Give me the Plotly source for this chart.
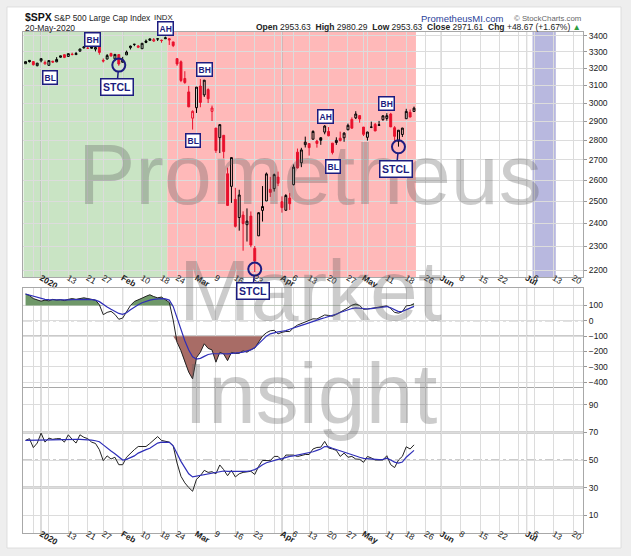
import numpy as np
import pandas as pd
import plotly.graph_objects as go

# ---- trading calendar: Dec 26 2019 -> late Jul 2020 (NYSE holidays removed)
holidays = ["2020-01-01", "2020-01-20", "2020-02-17", "2020-04-10", "2020-05-25", "2020-07-03"]
all_days = [d.strftime("%Y-%m-%d") for d in pd.bdate_range("2019-12-26", "2020-07-24")]
all_days = [d for d in all_days if d not in holidays]

# ---- $SPX daily OHLC, 26-Dec-2019 .. 20-May-2020
prev_close = 3223.38
opens = [3227.20, 3247.23, 3240.09, 3215.18,
         3244.67, 3226.36, 3217.55, 3241.86, 3238.59, 3266.03, 3281.81, 3271.13, 3285.35, 3282.27,
         3302.97, 3323.66, 3321.03, 3330.02, 3315.77, 3333.10, 3247.16, 3255.35, 3289.46, 3256.45, 3282.33,
         3235.66, 3280.61, 3324.91, 3344.92, 3335.54, 3318.28, 3365.87, 3370.50, 3365.90, 3378.08,
         3369.04, 3380.39, 3380.45, 3360.50, 3257.61, 3238.94, 3139.90, 3062.54, 2916.90,
         2974.28, 3096.46, 3045.75, 3075.70, 2954.20, 2863.89, 2813.48, 2825.60, 2630.86, 2569.99,
         2508.59, 2425.66, 2436.50, 2393.48, 2431.94, 2290.71, 2344.44, 2457.77, 2501.29, 2555.87,
         2558.98, 2614.69,
         2498.08, 2458.54, 2514.92, 2578.28, 2738.65, 2685.00, 2776.99, 2782.46, 2805.10, 2795.64,
         2812.64, 2842.43, 2845.62, 2784.81, 2787.89, 2810.42, 2812.64, 2854.65, 2909.96, 2918.46, 2930.91,
         2869.09, 2815.01, 2868.88, 2883.14, 2878.26, 2908.83, 2915.46, 2939.50, 2865.86, 2794.54,
         2829.95, 2913.86, 2948.59, 2953.63]
highs = [3240.08, 3247.93, 3240.92, 3231.72,
         3258.14, 3246.15, 3246.84, 3244.91, 3267.07, 3275.58, 3282.99, 3288.13, 3294.25, 3298.66,
         3317.11, 3329.88, 3329.79, 3337.77, 3326.88, 3333.18, 3258.85, 3285.78, 3293.47, 3285.91, 3282.33,
         3268.44, 3306.92, 3337.58, 3347.96, 3341.42, 3352.26, 3375.63, 3381.47, 3385.09, 3380.69,
         3375.01, 3393.52, 3385.09, 3360.76, 3259.81, 3246.99, 3182.51, 3097.07, 2959.72,
         3090.96, 3136.72, 3130.97, 3083.04, 2985.93, 2863.89, 2882.59, 2825.60, 2660.95, 2711.33,
         2562.98, 2553.93, 2453.57, 2466.97, 2453.01, 2300.73, 2449.71, 2571.42, 2637.01, 2615.91,
         2631.80, 2641.39,
         2522.75, 2533.22, 2538.18, 2676.85, 2756.89, 2760.75, 2818.57, 2782.46, 2851.85, 2801.88,
         2815.98, 2879.22, 2868.98, 2785.54, 2815.10, 2844.90, 2842.71, 2887.72, 2921.15, 2954.86, 2930.91,
         2869.09, 2844.24, 2898.23, 2891.11, 2901.92, 2932.16, 2944.25, 2945.82, 2874.14, 2852.80,
         2865.01, 2968.09, 2964.21, 2980.29]
lows = [3227.20, 3234.37, 3216.57, 3212.03,
        3235.53, 3222.34, 3214.64, 3232.43, 3236.67, 3263.67, 3260.86, 3268.43, 3277.19, 3280.69,
        3302.82, 3318.86, 3316.61, 3320.04, 3301.87, 3281.53, 3234.50, 3253.22, 3271.89, 3242.80, 3214.68,
        3235.66, 3280.61, 3313.75, 3334.39, 3322.12, 3317.77, 3352.72, 3369.72, 3360.52, 3366.15,
        3355.61, 3378.83, 3341.51, 3328.45, 3214.65, 3118.77, 3108.99, 2977.39, 2855.84,
        2945.19, 2976.63, 3034.38, 2999.83, 2901.54, 2734.43, 2734.00, 2707.22, 2478.86, 2492.37,
        2380.94, 2367.04, 2280.52, 2319.78, 2295.56, 2191.86, 2344.44, 2407.53, 2500.72, 2520.02,
        2545.28, 2571.15,
        2447.49, 2455.79, 2459.96, 2574.57, 2657.67, 2663.30, 2762.36, 2721.17, 2805.10, 2761.54,
        2775.95, 2830.88, 2820.43, 2727.10, 2775.95, 2794.26, 2791.76, 2852.89, 2860.71, 2912.16, 2892.47,
        2821.61, 2797.85, 2863.55, 2847.65, 2876.48, 2902.88, 2903.44, 2869.59, 2793.15, 2766.64,
        2816.78, 2913.86, 2922.35, 2953.63]
closes = [3239.91, 3240.02, 3221.29, 3230.78,
          3257.85, 3234.85, 3246.28, 3237.18, 3253.05, 3274.70, 3265.35, 3288.13, 3283.15, 3289.29,
          3316.81, 3329.62, 3320.79, 3321.75, 3325.54, 3295.47, 3243.63, 3276.24, 3273.40, 3283.66, 3225.52,
          3248.92, 3297.59, 3334.69, 3345.78, 3327.71, 3352.09, 3357.75, 3379.45, 3373.94, 3380.16,
          3370.29, 3386.15, 3373.23, 3337.75, 3225.89, 3128.21, 3116.39, 2978.76, 2954.22,
          3090.23, 3003.37, 3130.12, 3023.94, 2972.37, 2746.56, 2882.23, 2741.38, 2480.64, 2711.02,
          2386.13, 2529.19, 2398.10, 2409.39, 2304.92, 2237.40, 2447.33, 2475.56, 2630.07, 2541.47,
          2626.65, 2584.59,
          2470.50, 2526.90, 2488.65, 2663.68, 2659.41, 2749.98, 2789.82, 2761.63, 2846.06, 2783.36,
          2799.55, 2874.56, 2823.16, 2736.56, 2799.31, 2797.80, 2836.74, 2878.48, 2863.39, 2939.51, 2912.43,
          2830.71, 2842.74, 2868.44, 2848.42, 2881.19, 2929.80, 2930.32, 2870.12, 2820.00, 2852.50,
          2863.70, 2953.91, 2922.94, 2971.61]

cci = [175, 165, 145, 135,
       128, 135, 130, 140, 135, 138, 132, 140, 145, 140,
       147, 150, 145, 140, 135, 105, 40, 55, 62, 42,
       10, 18, 60, 100, 126, 135, 148, 160, 170, 158,
       150, 155, 140, 120, 5, -140, -195, -270, -335, -379,
       -240, -205, -150, -180, -190, -270, -206, -216, -260, -206,
       -213, -212, -196, -205, -188, -178, -142, -100, -78, -65,
       -62, -85, -75, -70, -70, -45, -28, -18, -10, 0,
       13, 12, 25, 38, 35, 30, 42, 55, 72, 85,
       102, 110, 100, 75, 77, 82, 88, 92, 95, 98,
       80, 55, 50, 60, 98, 100, 112]
cci_sig = [175, 168, 158, 150,
           145, 140, 138, 137, 136, 136, 136, 137, 138, 139,
           140, 141, 140, 138, 135, 125, 105, 90, 75, 62,
           48, 42, 52, 72, 90, 105, 118, 128, 135, 140,
           143, 145, 143, 135, 94, 20, -65, -130, -190, -235,
           -250, -245, -232, -220, -215, -214, -214, -215, -216, -215,
           -212, -208, -204, -198, -190, -175, -150, -120, -100, -85,
           -77, -72, -68, -64, -55, -45, -38, -30, -22, -12,
           -4, 5, 13, 20, 27, 34, 44, 54, 64, 73,
           80, 84, 82, 79, 77, 80, 84, 88, 91, 93,
           85, 70, 60, 62, 72, 82, 94]

rsi = [64.2, 65.5, 59.0, 62.3,
       69.5, 63.0, 65.9, 65.0, 65.5, 65.5, 63.0, 68.3, 65.0, 62.3,
       68.3, 66.5, 65.5, 63.0, 62.0, 57.5, 49.5, 53.0, 50.7, 52.0,
       46.6, 46.6, 52.0, 55.0, 57.5, 59.8, 60.0, 59.8, 62.0, 64.7,
       67.0, 64.2, 63.5, 63.0, 60.3, 47.8, 38.2, 33.4, 30.0, 27.3,
       36.0, 38.6, 42.5, 41.0, 41.5, 40.0, 46.4, 43.0, 38.6, 42.5,
       37.7, 40.0, 41.0, 41.5, 41.8, 39.5, 45.4, 49.7, 49.5, 49.5,
       52.6, 52.6, 49.5, 53.6, 53.6, 53.6, 52.5, 53.1, 54.0, 54.0,
       58.0, 59.1, 59.3, 63.5, 58.7, 58.0, 57.0, 52.6, 55.0, 52.0,
       52.6, 50.7, 50.5, 48.3, 52.6, 51.5, 50.0, 50.0, 50.0, 53.1,
       46.6, 44.5, 50.0, 52.6, 59.6, 58.0, 61.0]
rsi_sig = [64.2, 64.3, 64.2, 64.0,
           64.3, 64.5, 64.6, 64.6, 64.7, 64.8, 64.9, 65.0, 65.0, 65.0,
           65.0, 64.9, 64.7, 64.4, 64.0, 63.3, 61.0, 58.5, 56.5, 54.6,
           52.5, 50.0, 50.5, 51.5, 53.0, 55.0, 56.5, 57.5, 58.5, 60.5,
           62.3, 63.0, 63.0, 62.8, 60.3, 54.0, 49.0, 44.5, 40.0, 37.7,
           38.2, 38.6, 39.2, 40.0, 40.5, 41.0, 41.5, 42.0, 41.8, 41.8,
           41.5, 41.5, 41.6, 41.8, 42.2, 43.0, 44.5, 46.6, 48.0, 49.0,
           49.7, 50.5, 51.0, 52.0, 52.6, 53.0, 53.5, 54.0, 54.6, 55.0,
           56.0, 57.0, 58.0, 59.8, 59.5, 58.5, 57.5, 56.5, 55.5, 54.5,
           53.8, 53.0, 52.0, 51.2, 50.9, 50.7, 50.5, 50.3, 50.5, 51.3,
           50.0, 48.5, 47.8, 48.5, 52.0, 54.5, 57.0]

days = all_days[:len(closes)]

# ---- x axis: weekly grid, month starts bold
grid_days = ["2019-12-30", "2020-01-02", "2020-01-06", "2020-01-13", "2020-01-21", "2020-01-27",
             "2020-02-03", "2020-02-10", "2020-02-18", "2020-02-24", "2020-03-02", "2020-03-09",
             "2020-03-16", "2020-03-23", "2020-03-30", "2020-04-01", "2020-04-06", "2020-04-13",
             "2020-04-20", "2020-04-27", "2020-05-01", "2020-05-04", "2020-05-11", "2020-05-18",
             "2020-05-26", "2020-06-01", "2020-06-08", "2020-06-15", "2020-06-22", "2020-06-29",
             "2020-07-01", "2020-07-06", "2020-07-13", "2020-07-20"]
grid_labels = ["", "<b>2020</b>", "", "13", "21", "27",
               "<b>Feb</b>", "10", "18", "24", "<b>Mar</b>", "9",
               "16", "23", "", "<b>Apr</b>", "6", "13",
               "20", "27", "<b>May</b>", "", "11", "18",
               "26", "<b>Jun</b>", "8", "15", "22", "",
               "<b>Jul</b>", "6", "13", "20"]
month_days = ["2020-01-02", "2020-02-03", "2020-03-02", "2020-04-01", "2020-05-01", "2020-06-01", "2020-07-01"]

# ---- shaded periods (first day, last day, colour)
bands = [("2019-12-26", "2020-02-19", "#c9e4c4"),
         ("2020-02-20", "2020-05-20", "#ffb9b9"),
         ("2020-07-06", "2020-07-13", "#b8b8df")]

# ---- chart tags
tag_text = ["BL", "BH", "AH", "BH", "BL", "AH", "BL", "BH"]
tag_x = [6.2, 17.2, 36.0, 46.1, 43.1, 77.2, 79.1, 93.0]
tag_level = [3148, 3376, 3445, 3195, 2796, 2927, 2666, 2996]
stcl_dates = ["2020-01-31", "2020-03-23", "2020-05-14"]
stcl_levels = [3219, 2204, 2766]

NAVY = "#1c1c80"
RED = "#e8112d"
FONT = "Liberation Sans, Arial, sans-serif"
Y_LO, Y_HI = np.log10(2172), np.log10(3423)
P_DOM, C_DOM, R_DOM = [0.511, 1.0], [0.2914, 0.489], [0.0, 0.2914]
X_RANGE = [-0.66, 143.5]


def price_to_paper(v):
    return P_DOM[0] + (np.log10(v) - Y_LO) / (Y_HI - Y_LO) * (P_DOM[1] - P_DOM[0])


fig = go.Figure()

# candles: black when close above previous close, red otherwise; hollow when close > open
prevs = [prev_close] + closes[:-1]
for color, keep in [("#000000", lambda c, p: c >= p), (RED, lambda c, p: c < p)]:
    sel = [i for i in range(len(closes)) if keep(closes[i], prevs[i])]
    fig.add_trace(go.Candlestick(
        x=[days[i] for i in sel], open=[opens[i] for i in sel], high=[highs[i] for i in sel],
        low=[lows[i] for i in sel], close=[closes[i] for i in sel],
        increasing=dict(line=dict(color=color, width=1), fillcolor="rgba(0,0,0,0)"),
        decreasing=dict(line=dict(color=color, width=1), fillcolor=color),
        whiskerwidth=0, hoverinfo="skip", xaxis="x", yaxis="y"))

fig.add_trace(go.Scatter(x=stcl_dates, y=stcl_levels, mode="markers", cliponaxis=False,
                         marker=dict(symbol="circle-open", size=13, color=NAVY, line=dict(width=2, color=NAVY)),
                         hoverinfo="skip", xaxis="x", yaxis="y"))

# CCI pane with shaded excursions beyond +/-100
cci_hi = np.maximum(cci, 100)
cci_lo = np.minimum(cci, -100)
for base, edge, fc in [(100, cci_hi, "#6f9869"), (-100, cci_lo, "#a86c66")]:
    fig.add_trace(go.Scatter(x=days, y=[base] * len(days), mode="lines", line=dict(width=0),
                             hoverinfo="skip", xaxis="x2", yaxis="y2"))
    fig.add_trace(go.Scatter(x=days, y=edge, mode="lines", line=dict(width=0), fill="tonexty",
                             fillcolor=fc, hoverinfo="skip", xaxis="x2", yaxis="y2"))
fig.add_trace(go.Scatter(x=days, y=cci, mode="lines", line=dict(color="#222222", width=1),
                         hoverinfo="skip", xaxis="x2", yaxis="y2"))
fig.add_trace(go.Scatter(x=days, y=cci_sig, mode="lines", line=dict(color="#2e2eb8", width=1.2),
                         hoverinfo="skip", xaxis="x2", yaxis="y2"))

# RSI pane
fig.add_trace(go.Scatter(x=days, y=rsi, mode="lines", line=dict(color="#222222", width=1),
                         hoverinfo="skip", xaxis="x3", yaxis="y3"))
fig.add_trace(go.Scatter(x=days, y=rsi_sig, mode="lines", line=dict(color="#2e2eb8", width=1.2),
                         hoverinfo="skip", xaxis="x3", yaxis="y3"))

# ---- shapes
shapes = [dict(type="rect", xref="paper", yref="paper", x0=-0.0286, x1=1.0679, y0=-0.03, y1=1.05,
               fillcolor="white", line=dict(color="#dddddd", width=1), layer="below")]
for start, end, col in bands:
    shapes.append(dict(type="rect", xref="x", yref="y domain", x0=all_days.index(start) - 0.5,
                       x1=all_days.index(end) + 0.5, y0=0, y1=1, fillcolor=col, line=dict(width=0), layer="below"))
for xa, ya in [("x", "y"), ("x2", "y2"), ("x3", "y3")]:
    for d in month_days:
        shapes.append(dict(type="line", xref=xa, yref=ya + " domain", x0=d, x1=d, y0=0, y1=1,
                           line=dict(color="#a8a8a8", width=1), layer="below"))
for lvl, col, w, dash in [(100, "#707070", 1, "solid"), (-100, "#707070", 1, "solid"), (0, "#999999", 1, "dashdot")]:
    shapes.append(dict(type="line", xref="x2 domain", yref="y2", x0=0, x1=1, y0=lvl, y1=lvl,
                       line=dict(color=col, width=w, dash=dash), layer="below"))
for lvl, col, w, dash in [(70, "#a8a8a8", 2, "solid"), (30, "#a8a8a8", 2, "solid"), (50, "#999999", 1, "dashdot")]:
    shapes.append(dict(type="line", xref="x3 domain", yref="y3", x0=0, x1=1, y0=lvl, y1=lvl,
                       line=dict(color=col, width=w, dash=dash), layer="below"))

# ---- annotations
notes = []
for txt, yc in [("Prometheus", 0.716), ("Market", 0.486), ("Insight", 0.279)]:
    notes.append(dict(text=txt, xref="paper", yref="paper", x=0.5125, y=yc, xanchor="center",
                      yanchor="middle", showarrow=False,
                      font=dict(family=FONT, size=86, color="rgba(90,90,90,0.31)")))
for txt, xc, lvl in zip(tag_text, tag_x, tag_level):
    notes.append(dict(text="<b>%s</b>" % txt, xref="x", yref="paper", x=xc, y=price_to_paper(lvl),
                      xanchor="center", yanchor="middle", showarrow=False,
                      font=dict(family=FONT, size=8.5, color=NAVY), bgcolor="white",
                      bordercolor=NAVY, borderwidth=1.5, borderpad=1))
for d, lvl in zip(stcl_dates, stcl_levels):
    notes.append(dict(text="<b>STCL</b>", xref="x", yref="paper", x=d, y=price_to_paper(lvl),
                      showarrow=True, arrowhead=0, arrowwidth=1.5, arrowcolor=NAVY, ax=-2, ay=22,
                      standoff=6.5, font=dict(family=FONT, size=10.5, color=NAVY), bgcolor="white",
                      bordercolor=NAVY, borderwidth=1.5, borderpad=1.5))

chg = closes[-1] - closes[-2]
header = [("<b>$SPX</b>", 0.0, 1.0299, 10.5, "#111111", "left"),
          ("S&P 500 Large Cap Index", 0.0518, 1.0289, 8.3, "#222222", "left"),
          ("INDX", 0.2304, 1.0289, 7.8, "#222222", "left"),
          ("20-May-2020", 0.0, 1.008, 8.5, "#222222", "left"),
          ("PrometheusMI.com", 0.7063, 1.0269, 9.5, "#2a3f9a", "left"),
          ("© StockCharts.com", 1.0, 1.0269, 7.8, "#666666", "right"),
          ("<b>Open</b> %.2f  <b>High</b> %.2f  <b>Low</b> %.2f  <b>Close</b> %.2f  <b>Chg</b> %+.2f (%+.2f%%) "
           "<span style='color:#2e9e3e'>▲</span>" % (opens[-1], highs[-1], lows[-1], closes[-1], chg,
                                                       chg / closes[-2] * 100), 1.0, 1.010, 8.5, "#222222", "right")]
for txt, xp, yp, sz, col, anc in header:
    notes.append(dict(text=txt, xref="paper", yref="paper", x=xp, y=yp, xanchor=anc, yanchor="middle",
                      showarrow=False, font=dict(family=FONT, size=sz, color=col)))

xcommon = dict(type="category", categoryorder="array", categoryarray=all_days, range=X_RANGE,
               tickmode="array", tickvals=grid_days, ticktext=grid_labels, ticks="", ticklen=0,
               ticklabelstandoff=-8,
               showgrid=True, gridcolor="#dcdcdc", gridwidth=1, showline=True, linecolor="#a8a8a8",
               mirror=True, tickfont=dict(family=FONT, size=8.5, color="#222222"),
               rangeslider=dict(visible=False), fixedrange=True, automargin=False)
ycommon = dict(side="right", showgrid=True, gridcolor="#dcdcdc", showline=True, linecolor="#a8a8a8",
               mirror=True, ticks="outside", ticklen=3, tickcolor="#999999", zeroline=False,
               tickfont=dict(family=FONT, size=8.5, color="#222222"), fixedrange=True, automargin=False)

fig.update_layout(
    width=631, height=556,
    margin=dict(l=23, r=48, t=32, b=23, autoexpand=False),
    paper_bgcolor="#eeeeee", plot_bgcolor="white",
    showlegend=False, hovermode=False,
    font=dict(family=FONT, size=9, color="#222222"),
    xaxis=dict(xcommon, anchor="y"),
    xaxis2=dict(xcommon, anchor="y2", showticklabels=False),
    xaxis3=dict(xcommon, anchor="y3", mirror=False),
    yaxis=dict(ycommon, type="log", domain=P_DOM, range=[Y_LO, Y_HI],
               tickvals=list(range(2200, 3500, 100))),
    yaxis2=dict(ycommon, domain=C_DOM, range=[-432, 214], tickvals=[100, 0, -100, -200, -300, -400]),
    yaxis3=dict(ycommon, domain=R_DOM, range=[-3, 103], tickvals=[10, 30, 50, 70, 90]),
    shapes=shapes,
    annotations=notes,
)

# the page's default 8px body margin would push the 631x556 figure off the window
fig.write_html("out.html", config={"displayModeBar": False},
               post_script="document.body.style.margin='0';")
